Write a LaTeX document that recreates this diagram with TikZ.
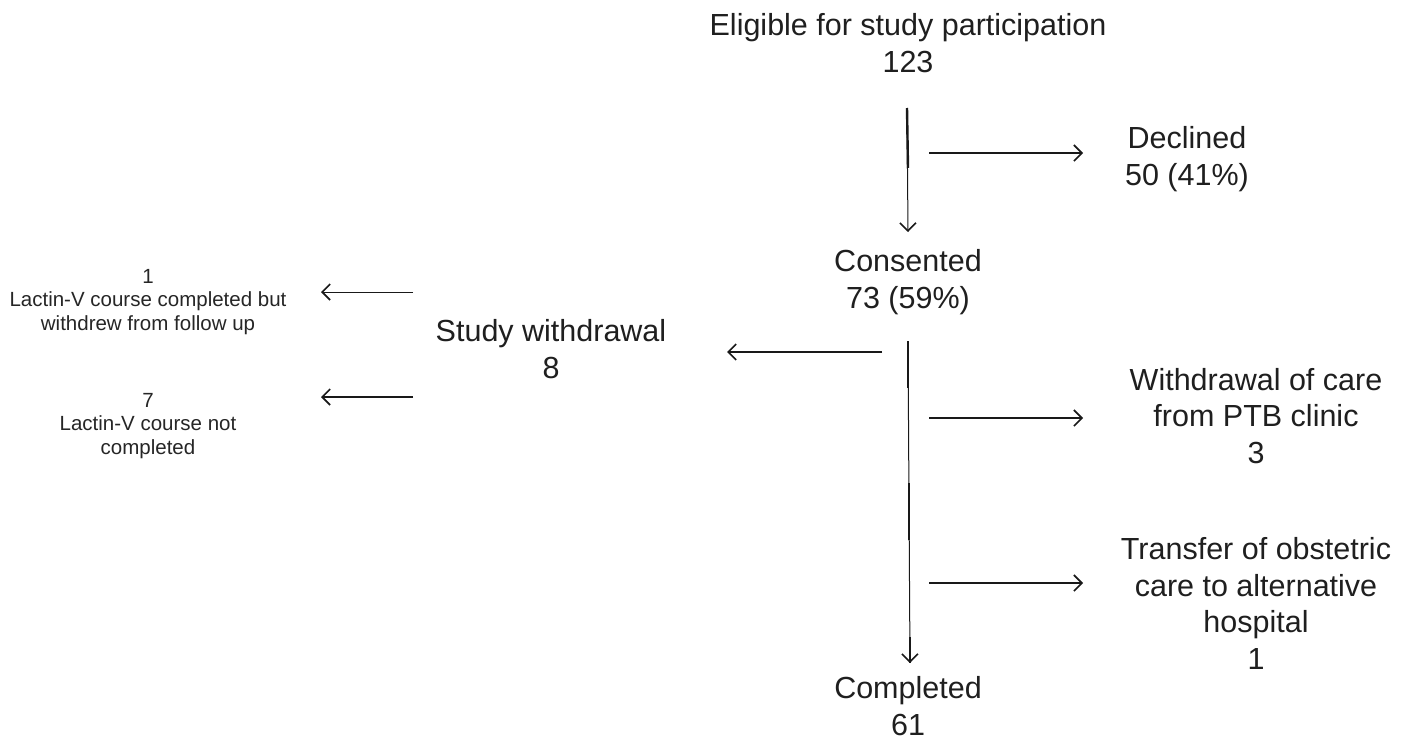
\documentclass[tikz,border=0pt]{standalone}
\usepackage{fontspec}
\setmainfont{Liberation Sans}
\usetikzlibrary{arrows.meta}
\begin{document}
\begin{tikzpicture}[x=1pt,y=-1pt,
  big/.style={font=\fontsize{30.5}{36.5}\selectfont, align=center, inner sep=0pt, anchor=base, text=black!88},
  small/.style={font=\fontsize{20.5}{23.5}\selectfont, align=center, inner sep=0pt, anchor=base, text=black!85},
  tip/.style={-{Straight Barb[length=8pt,width=16pt,line width=1.6pt]}},
  arr/.style={tip, line width=2pt, black!90},
  thinarr/.style={tip, line width=1pt, black!90},
  thickseg/.style={line width=2.4pt, black!90, line cap=butt}]
\useasboundingbox[fill=white] (0,0) rectangle (1409,742);

% labels (anchor = baseline of last line)
\node[big] (elig) at (908,72) {Eligible for study participation\\123};
\node[big] (decl) at (1187,185) {Declined\\50 (41\%)};
\node[big] (cons) at (908,308) {Consented\\73 (59\%)};
\node[big] (sw) at (551,378) {Study withdrawal\\8};
\node[big] (care) at (1256,463) {Withdrawal of care\\from PTB clinic\\3};
\node[big] (trans) at (1256,669) {Transfer of obstetric\\care to alternative\\hospital\\1};
\node[big] (comp) at (908,735) {Completed\\61};
\node[small] (lc1) at (148,330) {1\\Lactin-V course completed but\\withdrew from follow up};
\node[small] (lc7) at (148,454) {7\\Lactin-V course not\\completed};

% connector coordinates
\coordinate (v1s) at (907,108);
\coordinate (v1t) at (908,168);
\coordinate (v1e) at (908,232);
\coordinate (d1s) at (929,153);
\coordinate (d1e) at (1083,153);
\coordinate (w1s) at (882,352);
\coordinate (w1e) at (727,352);
\coordinate (v2s) at (908,341);
\coordinate (v2a) at (908,388);
\coordinate (v2b) at (909,483);
\coordinate (v2c) at (909,540);
\coordinate (v2d) at (910,637);
\coordinate (v2e) at (910,663);
\coordinate (c1s) at (929,418);
\coordinate (c1e) at (1083,418);
\coordinate (t1s) at (929,583);
\coordinate (t1e) at (1083,583);
\coordinate (s1s) at (413,292);
\coordinate (s1e) at (321,292);
\coordinate (s7s) at (413,397);
\coordinate (s7e) at (321,397);

% connectors
\draw[thinarr] (v1s) -- (v1e);
\draw[thickseg] (v1s) -- (v1t);
\draw[arr] (d1s) -- (d1e);
\draw[arr] (w1s) -- (w1e);
\draw[thinarr] (v2s) -- (v2e);
\draw[thickseg] (v2s) -- (v2a);
\draw[thickseg] (v2b) -- (v2c);
\draw[thickseg] (v2d) -- (v2e);
\draw[arr] (c1s) -- (c1e);
\draw[arr] (t1s) -- (t1e);
\draw[thinarr] (s1s) -- (s1e);
\draw[arr] (s7s) -- (s7e);
\end{tikzpicture}
\end{document}
